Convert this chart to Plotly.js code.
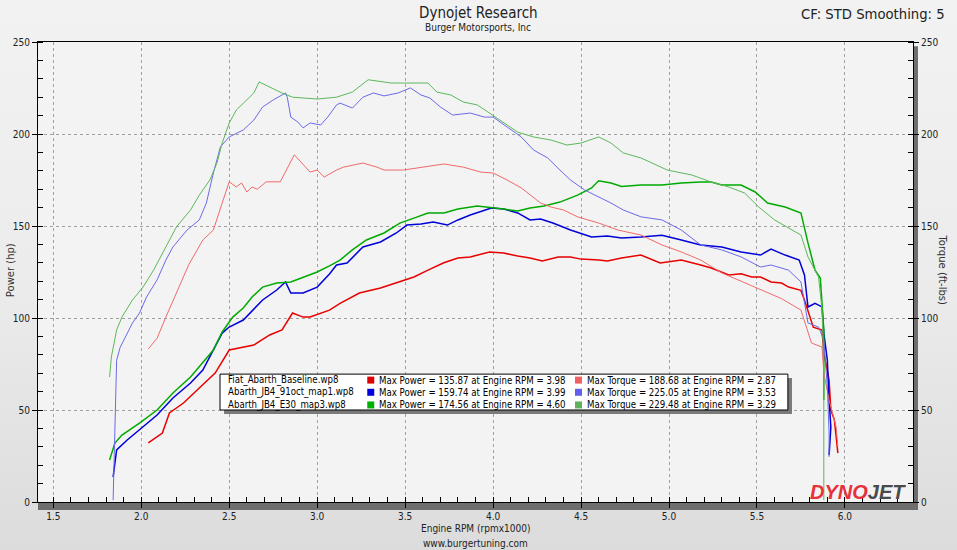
<!DOCTYPE html>
<html>
<head>
<meta charset="utf-8">
<script src="https://cdn.plot.ly/plotly-3.0.1.min.js"></script>
<style>
  html, body { margin: 0; padding: 0; }
  body { width: 957px; height: 550px; background: linear-gradient(to bottom, #f2f2f2 0%, #ececec 50%, #dcdcdc 100%); overflow: hidden; }
  #chart { width: 957px; height: 550px; }
</style>
</head>
<body>
<div id="chart"></div>
<script>
// ---- Data ----
const runNames = ["Fiat_Abarth_Baseline.wp8", "Abarth_JB4_91oct_map1.wp8", "Abarth_JB4_E30_map3.wp8"];
const maxPower = [135.87, 159.74, 174.56];
const maxPowerRpm = [3.98, 3.99, 4.60];
const maxTorque = [188.68, 225.05, 229.48];
const maxTorqueRpm = [2.87, 3.53, 3.29];

// Baseline power
const basePowerRpm = [2.04,2.12,2.16,2.24,2.33,2.42,2.50,2.58,2.64,2.73,2.80,2.86,2.92,2.96,3.03,3.07,3.13,3.19,3.24,3.36,3.46,3.55,3.63,3.72,3.80,3.87,3.98,4.06,4.14,4.21,4.28,4.37,4.44,4.50,4.60,4.65,4.73,4.84,4.95,5.07,5.18,5.24,5.34,5.41,5.47,5.52,5.58,5.64,5.68,5.75,5.77,5.82,5.87,5.88,5.91,5.92,5.94,5.96];
const basePower = [32.1,37.5,48.4,53.8,62,70.1,82.6,84.2,85.3,90.8,93.5,102.7,100.5,100.5,102.7,104.3,108,110.9,113.6,116.3,119.6,122.3,126,130,132.6,133.2,135.87,135.3,133.7,132.6,131,133.2,133.2,132,131.5,131,132.6,134.2,129.9,131.5,128.8,127.2,123.4,124,122.3,122.3,119.6,119,116.8,115,109.8,95,93.5,81,66.3,50,44.6,26.6];
// Baseline torque
const baseTorqueRpm = [2.04,2.09,2.14,2.20,2.27,2.35,2.41,2.46,2.50,2.54,2.57,2.60,2.63,2.66,2.71,2.79,2.87,2.96,3.00,3.04,3.11,3.15,3.26,3.34,3.38,3.49,3.60,3.72,3.83,3.93,4.00,4.08,4.16,4.21,4.27,4.33,4.40,4.48,4.60,4.71,4.78,4.84,4.96,5.07,5.18,5.30,5.41,5.52,5.64,5.75,5.81,5.87,5.88,5.91,5.95,5.96];
const baseTorque = [83.2,89,100.5,113.6,129,142.4,147.8,162.5,174,171.2,173.4,168.5,171.2,170,174,174,188.68,179.3,180.4,176.6,180.4,182,184.2,182,180.4,180.4,182,183.7,182,179.3,178.8,175,170.7,166.8,162.5,160.3,158.7,155,151.6,147.8,146.2,145.1,139.7,135.9,131.5,124.5,120,115.5,110.5,104.3,86.4,84.2,70.1,55.4,40.8,29.9];

// 91 octane map1 power
const oct91PowerRpm = [1.84,1.85,1.86,1.92,1.99,2.09,2.18,2.28,2.35,2.41,2.46,2.50,2.58,2.69,2.77,2.82,2.85,2.92,3.00,3.07,3.11,3.17,3.26,3.36,3.45,3.51,3.59,3.66,3.74,3.80,3.87,3.99,4.06,4.14,4.21,4.27,4.34,4.44,4.56,4.65,4.73,4.84,4.96,5.07,5.18,5.30,5.41,5.52,5.58,5.66,5.74,5.77,5.79,5.83,5.87,5.88,5.90,5.91,5.92,5.91];
const oct91Power = [13.6,21.2,28.3,33.7,39.1,47.3,56.5,64.7,71.7,82.6,91.8,95.1,98.9,109.8,115.2,119.6,113.6,113.6,116.8,123.9,128.8,129.9,138.6,141.3,146.2,150.5,151.1,152.2,150.5,153.3,156,159.74,159.2,157.1,153.3,153.8,151.6,147.8,144,144.6,143.5,144,145,142.4,139.7,138.6,135.9,134.2,137.5,134.2,131.5,123.4,106,108,106,91.8,77.2,55.4,40.8,25.5];
// 91 octane map1 torque
const oct91TorqueRpm = [1.84,1.85,1.86,1.88,1.92,1.95,1.99,2.03,2.09,2.14,2.18,2.26,2.33,2.37,2.41,2.45,2.50,2.58,2.64,2.69,2.75,2.82,2.83,2.85,2.89,2.92,2.96,3.02,3.06,3.11,3.13,3.20,3.26,3.32,3.38,3.46,3.53,3.59,3.64,3.70,3.77,3.87,3.95,4.00,4.08,4.16,4.23,4.31,4.38,4.44,4.52,4.60,4.67,4.74,4.84,4.96,5.07,5.18,5.30,5.41,5.52,5.58,5.68,5.75,5.79,5.85,5.88,5.90,5.91,5.91];
const oct91Torque = [1,46,77,84,91.8,97.3,102.7,111.4,120.7,131.5,138.6,147.8,153.3,162.5,178.8,193,198.4,202.2,207.6,214.7,218.5,222.3,220,209.2,206.5,203.3,206,204.9,209.2,215.8,216.8,214.1,220,222.3,220.7,222.3,225.05,221.2,219.6,214.7,210.3,211.4,209.2,209.2,203.8,198.4,191.3,187,180.4,175,169.6,165.8,162.5,158.7,155,153.3,147.8,139.7,137,133.2,127.7,128.8,126,119.6,97.3,95.1,88,62.5,37.5,24.5];

// E30 map3 power
const e30PowerRpm = [1.82,1.85,1.89,1.99,2.09,2.18,2.28,2.36,2.41,2.46,2.52,2.58,2.63,2.69,2.77,2.85,2.92,3.00,3.07,3.13,3.20,3.28,3.38,3.47,3.55,3.63,3.72,3.80,3.91,3.99,4.06,4.14,4.21,4.29,4.38,4.48,4.56,4.60,4.67,4.73,4.84,4.96,5.07,5.18,5.24,5.30,5.41,5.49,5.56,5.66,5.74,5.75,5.79,5.83,5.86,5.87,5.88,5.88];
const e30Power = [22.8,32,36.4,42.9,50,59.2,67.9,77.2,82.6,92.4,100.5,105.4,111.4,116.8,119,119.6,122.3,125,128.3,131.5,137,142.4,146.2,151.6,154.3,157.1,157.1,159.2,160.9,159.8,159.2,158.2,159.8,160.9,163,166.8,170.7,174.56,173.4,171.5,172.3,172.3,173.4,173.9,173.9,172.3,172.3,168.5,162.5,160.3,157.6,157.1,140.8,126,121.7,106,93.5,55.4];
// E30 map3 torque
const e30TorqueRpm = [1.82,1.83,1.86,1.89,1.95,2.01,2.07,2.14,2.20,2.28,2.33,2.39,2.43,2.46,2.50,2.54,2.58,2.64,2.67,2.73,2.80,2.86,3.00,3.11,3.20,3.29,3.36,3.42,3.49,3.57,3.63,3.68,3.76,3.83,3.91,3.97,4.04,4.14,4.23,4.33,4.42,4.50,4.60,4.67,4.74,4.84,4.99,5.13,5.24,5.34,5.43,5.51,5.60,5.70,5.75,5.79,5.85,5.87,5.88,5.88];
const e30Torque = [67.9,78.8,93.5,100.5,109.8,116.8,126,138.6,149.5,158.7,166.8,175,184.2,195.1,206,213,216.8,222.3,228.3,225.5,222.3,220,219,220,222.8,229.48,228.3,227.7,227.7,227.7,227.7,222.8,221.2,217.4,215.8,212,207.6,201,198.4,196.7,194,195.1,198.4,195.1,189.7,187,180.4,177.7,173.9,171.2,167.9,160.3,153.3,147.8,145.1,133.2,122.3,104.3,73.4,1];

// ---- Styles ----
const powerColors = ["#e80000", "#0000d8", "#00aa00"];
const torqueColors = ["#f06a6a", "#6a6ae8", "#5cb85c"];
const legendPowerSq = ["#e00000", "#0000e0", "#00b000"];
const legendTorqueSq = ["#f06060", "#6060e8", "#60b060"];

const powerX = [basePowerRpm, oct91PowerRpm, e30PowerRpm];
const powerY = [basePower, oct91Power, e30Power];
const torqueX = [baseTorqueRpm, oct91TorqueRpm, e30TorqueRpm];
const torqueY = [baseTorque, oct91Torque, e30Torque];

const traces = [];
for (let i = 0; i < 3; i++) {
  traces.push({ x: torqueX[i], y: torqueY[i], type: "scatter", mode: "lines", yaxis: "y2",
    line: { color: torqueColors[i], width: 1 }, hoverinfo: "skip", showlegend: false });
}
for (let i = 0; i < 3; i++) {
  traces.push({ x: powerX[i], y: powerY[i], type: "scatter", mode: "lines",
    line: { color: powerColors[i], width: 1.5 }, hoverinfo: "skip", showlegend: false });
}

const FONT = "Liberation Sans Narrow, DejaVu Sans Condensed, Liberation Sans, Arial, sans-serif";
const tickFont = { family: "DejaVu Sans Condensed, Liberation Sans, sans-serif", size: 10, color: "#222" };

const shapes = [
  // frame shadow
  { type: "rect", xref: "paper", yref: "paper", x0: 0.0, x1: 1.0057, y0: -0.0174, y1: -0.002, fillcolor: "#6e6e6e", line: { width: 0 }, layer: "below" },
  { type: "rect", xref: "paper", yref: "paper", x0: 1.001, x1: 1.0057, y0: -0.0174, y1: 0.991, fillcolor: "#6e6e6e", line: { width: 0 }, layer: "below" },
  // legend box shadow + box
  { type: "rect", xref: "paper", yref: "paper", x0: 0.2126, x1: 0.8617, y0: 0.1913, y1: 0.2696, fillcolor: "#7a7a7a", line: { width: 0 }, layer: "above" },
  { type: "rect", xref: "paper", yref: "paper", x0: 0.208, x1: 0.857, y0: 0.2, y1: 0.278, fillcolor: "#ffffff", line: { color: "#000", width: 1 }, layer: "above" }
];

const rowY = [0.265, 0.2385, 0.211];
const annotations = [];
for (let i = 0; i < 3; i++) {
  const sqH = 0.0076;
  shapes.push({ type: "rect", xref: "paper", yref: "paper", x0: 0.3763, x1: 0.3843, y0: rowY[i] - sqH, y1: rowY[i] + sqH, fillcolor: legendPowerSq[i], line: { width: 0 }, layer: "above" });
  shapes.push({ type: "rect", xref: "paper", yref: "paper", x0: 0.6137, x1: 0.6217, y0: rowY[i] - sqH, y1: rowY[i] + sqH, fillcolor: legendTorqueSq[i], line: { width: 0 }, layer: "above" });
  const f = { family: "DejaVu Sans Condensed, Liberation Sans, sans-serif", size: 9.6, color: "#000" };
  annotations.push({ xref: "paper", yref: "paper", x: 0.2149, y: rowY[i], xanchor: "left", yanchor: "middle", showarrow: false, text: runNames[i], font: f });
  annotations.push({ xref: "paper", yref: "paper", x: 0.3875, y: rowY[i], xanchor: "left", yanchor: "middle", showarrow: false,
    text: "Max Power = " + maxPower[i].toFixed(2) + " at Engine RPM = " + maxPowerRpm[i].toFixed(2), font: f });
  annotations.push({ xref: "paper", yref: "paper", x: 0.625, y: rowY[i], xanchor: "left", yanchor: "middle", showarrow: false,
    text: "Max Torque = " + maxTorque[i].toFixed(2) + " at Engine RPM = " + maxTorqueRpm[i].toFixed(2), font: f });
}

annotations.push(
  { xref: "paper", yref: "paper", x: 0.503, y: 1.063, xanchor: "center", yanchor: "middle", showarrow: false, text: "Dynojet Research", font: { family: FONT, size: 15, color: "#222" } },
  { xref: "paper", yref: "paper", x: 0.503, y: 1.031, xanchor: "center", yanchor: "middle", showarrow: false, text: "Burger Motorsports, Inc", font: { family: FONT, size: 10, color: "#222" } },
  { xref: "paper", yref: "paper", x: 1.039, y: 1.061, xanchor: "right", yanchor: "middle", showarrow: false, text: "CF: STD Smoothing: 5", font: { family: FONT, size: 14.7, color: "#222" } },
  { xref: "paper", yref: "paper", x: 0.5, y: -0.058, xanchor: "center", yanchor: "middle", showarrow: false, text: "Engine RPM (rpmx1000)", font: { family: FONT, size: 10, color: "#222" } },
  { xref: "paper", yref: "paper", x: 0.5, y: -0.091, xanchor: "center", yanchor: "middle", showarrow: false, text: "www.burgertuning.com", font: { family: FONT, size: 10, color: "#222" } },
  { xref: "paper", yref: "paper", x: -0.032, y: 0.504, xanchor: "center", yanchor: "middle", textangle: -90, showarrow: false, text: "Power (hp)", font: { family: "DejaVu Sans, Liberation Sans, sans-serif", size: 10, color: "#333" } },
  { xref: "paper", yref: "paper", x: 1.034, y: 0.504, xanchor: "center", yanchor: "middle", textangle: 90, showarrow: false, text: "Torque (ft-lbs)", font: { family: "DejaVu Sans, Liberation Sans, sans-serif", size: 10, color: "#333" } },
  { xref: "paper", yref: "paper", x: 0.937, y: 0.021, xanchor: "center", yanchor: "middle", showarrow: false,
    text: "<b><i><span style='color:#e8303a'>DYNO</span><span style='color:#4a4a4a'>JET</span></i></b>", font: { family: "Liberation Sans, Arial, sans-serif", size: 20 } }
);

const gridStyle = { showgrid: true, gridcolor: "#a0a0a0", griddash: "3px,3px", gridwidth: 1 };

const layout = {
  width: 957, height: 550,
  margin: { l: 38, r: 44, t: 42, b: 48 },
  paper_bgcolor: "rgba(0,0,0,0)",
  plot_bgcolor: "#f3f3f3",
  showlegend: false,
  xaxis: Object.assign({
    range: [1.413, 6.387], tick0: 1.5, dtick: 0.5, tickformat: ".1f",
    showline: true, linecolor: "#000", linewidth: 1, mirror: true,
    ticks: "outside", ticklen: 5, tickcolor: "#000",
    minor: { ticks: "inside", dtick: 0.1, ticklen: 5, tickcolor: "#000", showgrid: false },
    tickfont: tickFont, zeroline: false
  }, gridStyle),
  yaxis: Object.assign({
    range: [0, 250], dtick: 50,
    showline: true, linecolor: "#000", linewidth: 1, mirror: false,
    ticks: "outside", ticklen: 5, tickcolor: "#000",
    minor: { ticks: "inside", dtick: 10, ticklen: 5, tickcolor: "#000", showgrid: false },
    tickfont: tickFont, zeroline: false
  }, gridStyle),
  yaxis2: {
    overlaying: "y", side: "right", range: [0, 250], dtick: 50,
    showgrid: false, zeroline: false,
    showline: true, linecolor: "#000", linewidth: 1,
    ticks: "outside", ticklen: 5, tickcolor: "#000",
    minor: { ticks: "inside", dtick: 10, ticklen: 5, tickcolor: "#000", showgrid: false },
    tickfont: tickFont
  },
  shapes: shapes,
  annotations: annotations
};

Plotly.newPlot("chart", traces, layout, { staticPlot: true, displayModeBar: false });
</script>
</body>
</html>
